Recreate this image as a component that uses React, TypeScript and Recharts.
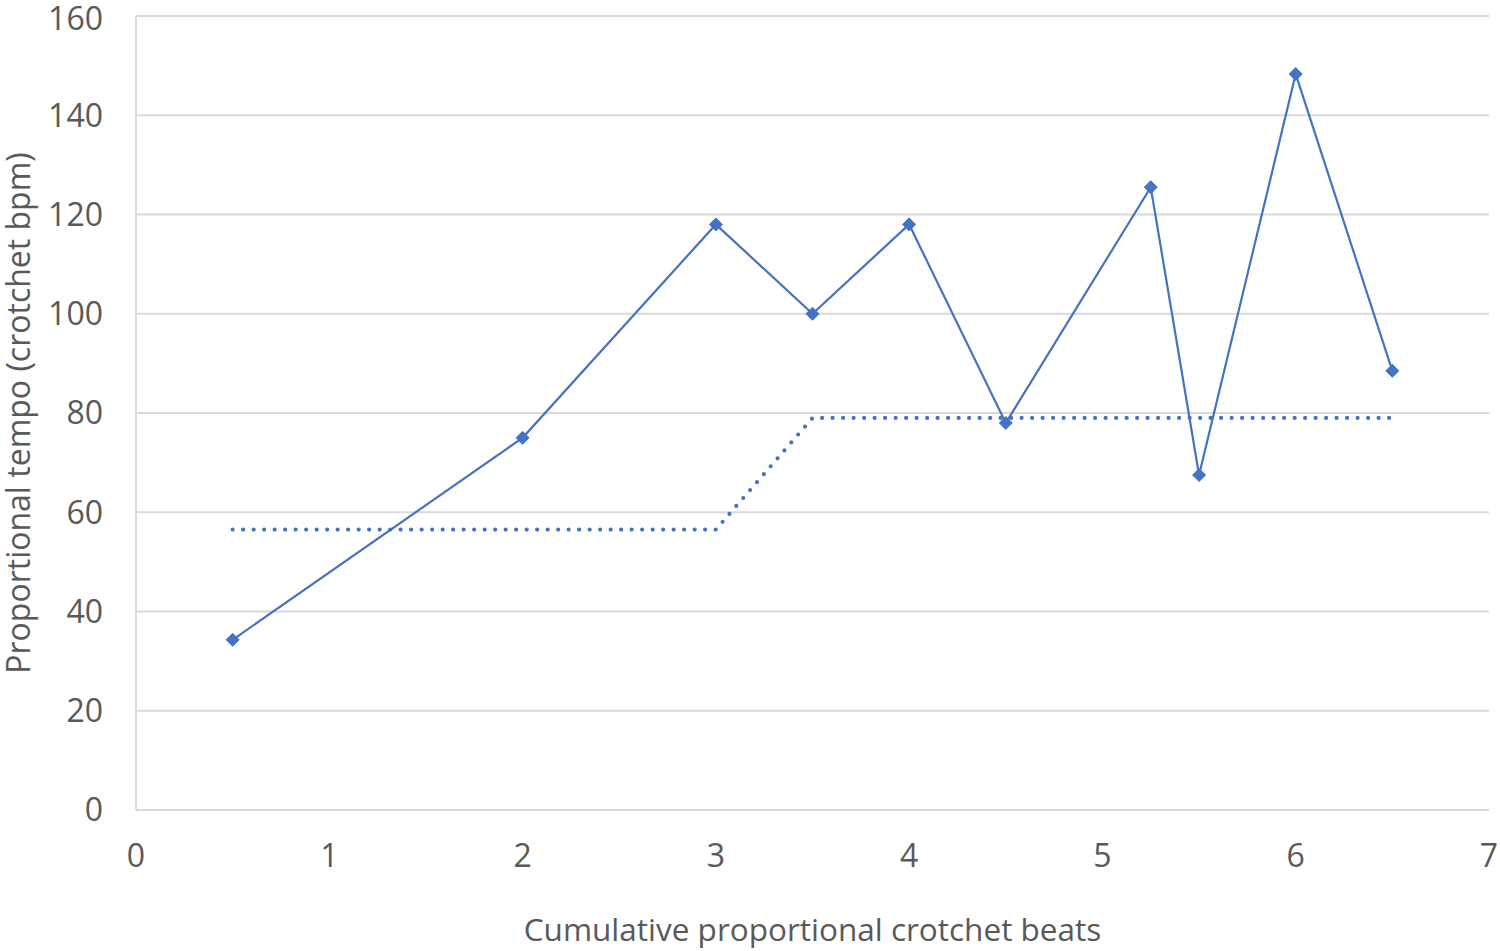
import React from 'react';
import { LineChart, Line, XAxis, YAxis, CartesianGrid } from 'recharts';

const beats = [0.5, 2, 3, 3.5, 4, 4.5, 5.25, 5.5, 6, 6.5];
const tempo = [34.3, 75, 118, 100, 118, 78, 125.5, 67.5, 148.3, 88.5];
const baseline = [56.5, 56.5, 56.5, 79, 79, 79, 79, 79, 79, 79];
const xTicks = [0, 1, 2, 3, 4, 5, 6, 7];
const yTicks = [0, 20, 40, 60, 80, 100, 120, 140, 160];

const data = beats.map((b, i) => ({ x: b, tempo: tempo[i], base: baseline[i] }));

const COLOR = '#4472C4';
const TEXT = '#595959';
const FONT = '"Open Sans", sans-serif';

const Diamond = (props: any) => {
  const { cx, cy } = props;
  if (cx == null || cy == null) return null;
  const r = 6.5;
  return (
    <path
      d={`M${cx},${cy - r}L${cx + r},${cy}L${cx},${cy + r}L${cx - r},${cy}Z`}
      fill={COLOR}
      stroke={COLOR}
      strokeWidth={1}
    />
  );
};

export default function App() {
  return (
    <div style={{ position: 'absolute', left: 0, top: 0, width: 1500, height: 951, background: '#fff' }}>
      <LineChart
        width={1500}
        height={951}
        data={data}
        margin={{ top: 16, right: 11, left: 0, bottom: 0 }}
      >
        <CartesianGrid vertical={false} stroke="#d9d9d9" strokeWidth={2} />
        <XAxis
          dataKey="x"
          type="number"
          domain={[0, 7]}
          ticks={xTicks}
          height={141}
          tickLine={false}
          tickSize={0}
          tickMargin={34}
          axisLine={{ stroke: '#d9d9d9', strokeWidth: 2 }}
          tick={{ fill: TEXT, fontSize: 32, fontFamily: FONT }}
          label={{
            value: 'Cumulative proportional crotchet beats',
            position: 'insideBottom',
            offset: 10,
            style: { fill: TEXT, fontSize: 31.5, fontFamily: FONT },
          }}
        />
        <YAxis
          type="number"
          domain={[0, 160]}
          ticks={yTicks}
          width={136}
          tickLine={false}
          tickSize={0}
          tickMargin={33}
          axisLine={{ stroke: '#d9d9d9', strokeWidth: 2 }}
          tick={{ fill: TEXT, fontSize: 32, fontFamily: FONT }}
          label={{
            value: 'Proportional tempo (crotchet bpm)',
            angle: -90,
            position: 'insideLeft',
            offset: 19,
            style: { fill: TEXT, fontSize: 32, fontFamily: FONT, textAnchor: 'middle' },
          }}
        />
        <Line
          dataKey="base"
          stroke={COLOR}
          strokeWidth={4.2}
          strokeDasharray="0 10.5"
          strokeLinecap="round"
          dot={false}
          activeDot={false}
          isAnimationActive={false}
          type="linear"
        />
        <Line
          dataKey="tempo"
          stroke={COLOR}
          strokeWidth={2.2}
          dot={<Diamond />}
          activeDot={false}
          isAnimationActive={false}
          type="linear"
        />
      </LineChart>
    </div>
  );
}
